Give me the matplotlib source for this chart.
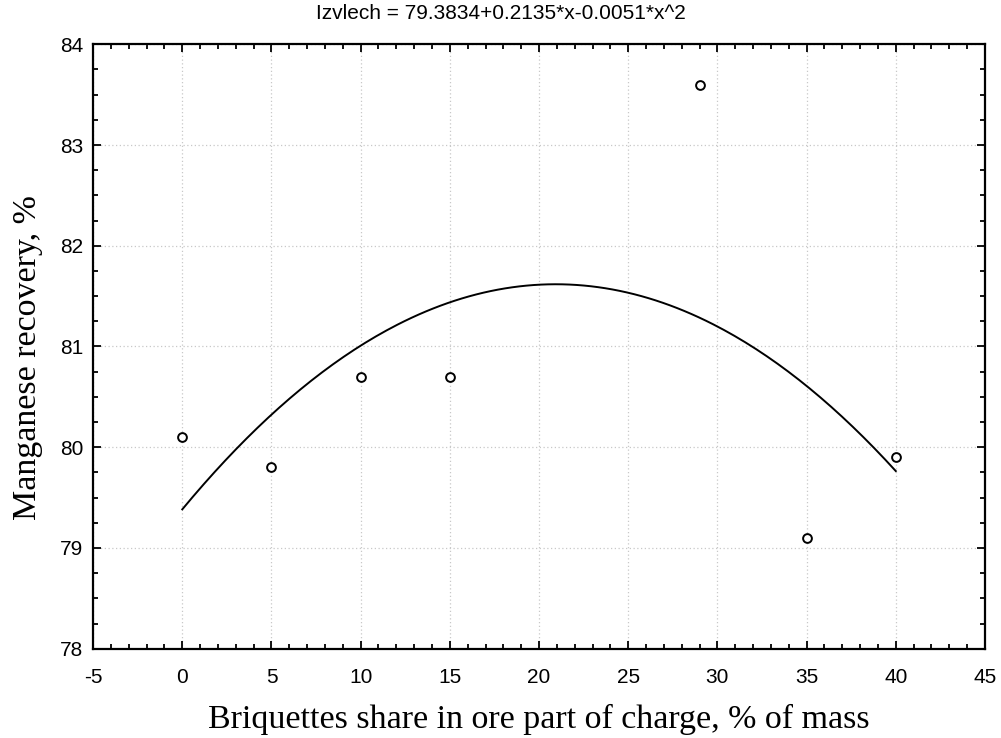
import matplotlib
matplotlib.use("Agg")
import matplotlib.pyplot as plt
import numpy as np
from matplotlib.ticker import MultipleLocator, FuncFormatter

# measured points
x_pts = [0, 5, 10, 15, 29, 35, 40]
y_pts = [80.1, 79.8, 80.7, 80.7, 83.6, 79.1, 79.9]

# fitted coefficients from title (c0, c1, c2)
coef = [79.3834, 0.2135, -0.0051]
x_fit_range = [0, 40]

title = "Izvlech = 79.3834+0.2135*x-0.0051*x^2"
xlabel = "Briquettes share in ore part of charge, % of mass"
ylabel = "Manganese recovery, %"

fig = plt.figure(figsize=(10.01, 7.38), dpi=100)
ax = fig.add_axes([0.093, 0.121, 0.891, 0.819])

xs = np.linspace(x_fit_range[0], x_fit_range[1], 200)
ys = coef[0] + coef[1] * xs + coef[2] * xs ** 2
ax.plot(xs, ys, color="black", lw=1.4)
ax.scatter(x_pts, y_pts, s=40, facecolors="white", edgecolors="black", linewidths=1.4, zorder=3)

ax.set_xlim(-5, 45)
ax.set_ylim(78, 84)
ax.xaxis.set_major_locator(MultipleLocator(5))
ax.xaxis.set_minor_locator(MultipleLocator(1))
ax.yaxis.set_major_locator(MultipleLocator(1))
ax.yaxis.set_minor_locator(MultipleLocator(0.25))
fmt = FuncFormatter(lambda v, p: f"{v:g}".replace("\u2212", "-"))
ax.xaxis.set_major_formatter(fmt)
ax.yaxis.set_major_formatter(fmt)
ax.tick_params(which="both", direction="in", top=True, right=True, width=1.3)
ax.tick_params(which="major", length=6, labelsize=15)
ax.tick_params(axis="x", which="major", pad=14)
ax.tick_params(axis="y", which="major", pad=7)
ax.tick_params(which="minor", length=3.5)
for lab in ax.get_xticklabels() + ax.get_yticklabels():
    lab.set_family("Liberation Sans")
ax.grid(True, which="major", color="#c8c8c8", linestyle=(0, (1, 2)), lw=0.9)
for sp in ax.spines.values():
    sp.set_linewidth(1.6)

fig.text(0.5, 0.982, title, fontsize=15, family="Liberation Sans", ha="center", va="center")
ax.set_xlabel(xlabel, fontsize=24.5, family="Liberation Serif", labelpad=12)
ax.set_ylabel(ylabel, fontsize=24.5, family="Liberation Serif")
ax.yaxis.set_label_coords(-0.056, 0.482)

fig.savefig("out.png", dpi=100)
